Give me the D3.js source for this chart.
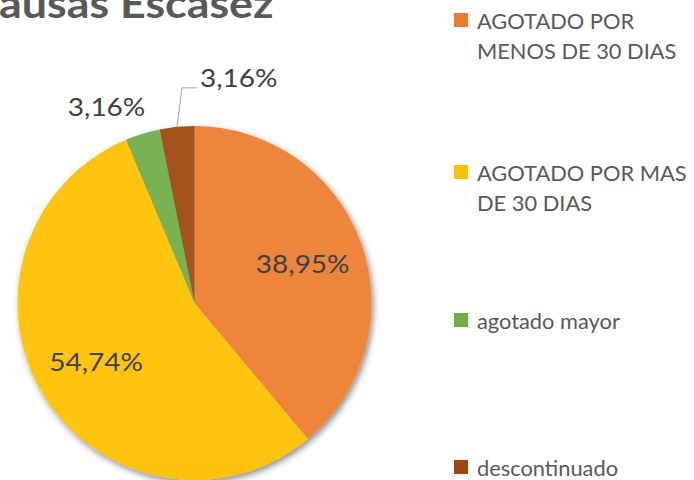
<!DOCTYPE html>
<html>
<head>
<meta charset="utf-8">
<script src="https://cdn.jsdelivr.net/npm/d3@7"></script>
<style>
  body { margin: 0; background: #fff; }
  svg { display: block; font-family: Lato, "Open Sans", sans-serif; }
</style>
</head>
<body>
<div id="chart"></div>
<script>
var width = 694
var height = 480

// data
var categories = ["AGOTADO POR MENOS DE 30 DIAS", "AGOTADO POR MAS DE 30 DIAS", "agotado mayor", "descontinuado"]
var legendLines = [["AGOTADO POR", "MENOS DE 30 DIAS"], ["AGOTADO POR MAS", "DE 30 DIAS"], ["agotado mayor"], ["descontinuado"]]
var values = [38.95, 54.74, 3.16, 3.16]
var labels = ["38,95%", "54,74%", "3,16%", "3,16%"]
var baseColors = ["#ED7D31", "#FFC000", "#70AD47", "#9E480E"]
var title = "Causas Escasez"

var cx = 194.5, cy = 303, radius = 177
var stretch = 1.12   // the original text is a bit wider than Lato

var svg = d3.select('#chart')
      .append('svg')
      .attr('width', width)
      .attr('height', height)

var defs = svg.append('defs')

// soft shadow like the office pie
var shadow = defs.append('filter').attr('id', 'shadow')
      .attr('x', '-20%').attr('y', '-20%').attr('width', '140%').attr('height', '140%')
shadow.append('feDropShadow')
      .attr('dx', 2).attr('dy', 3)
      .attr('stdDeviation', 3)
      .attr('flood-color', '#000')
      .attr('flood-opacity', 0.45)

// vertical gradient per slice, lighter on top
baseColors.forEach(function(c, i) {
  var g = defs.append('linearGradient')
        .attr('id', 'grad' + i)
        .attr('gradientUnits', 'userSpaceOnUse')
        .attr('x1', 0).attr('y1', cy - radius)
        .attr('x2', 0).attr('y2', cy + radius)
  g.append('stop').attr('offset', '0%').attr('stop-color', d3.interpolateRgb(c, '#fff')(0.06))
  g.append('stop').attr('offset', '100%').attr('stop-color', d3.color(c).darker(0.3))
})

// text helper: places a text at x,y with a small horizontal stretch
function addText(parent, x, y, size, sx) {
  return parent.append('text')
        .attr('transform', 'translate(' + x + ',' + y + ') scale(' + sx + ',1)')
        .style('font-size', size + 'px')
}

// title (first letter sits off the left edge)
var tmp = svg.append('text').style('font-size', '40px').style('font-weight', 'bold').text(title.charAt(0))
var firstW = tmp.node().getComputedTextLength() * stretch
tmp.remove()
addText(svg, -firstW - 1, 18, 40, stretch)
      .attr('fill', '#595959')
      .style('font-weight', 'bold')
      .text(title)

var pie = d3.pie().sort(null).value(function(d) { return d })
var arcs = pie(values)
var arc = d3.arc().innerRadius(0).outerRadius(radius)
var labelArc = d3.arc().innerRadius(radius * 0.65).outerRadius(radius * 0.65)
var edgeArc = d3.arc().innerRadius(radius).outerRadius(radius)

var pieG = svg.append('g')
      .attr('transform', 'translate(' + cx + ',' + cy + ')')

pieG.append('g')
      .attr('filter', 'url(#shadow)')
      .selectAll('path')
      .data(arcs)
      .enter()
      .append('path')
      .attr('d', arc)
      .attr('fill', function(d, i) { return 'url(#grad' + i + ')' })

// labels inside the two big slices
arcs.slice(0, 2).forEach(function(d, i) {
  var c = labelArc.centroid(d)
  addText(pieG, c[0], c[1], 25, stretch)
    .attr('dy', '0.35em')
    .attr('text-anchor', 'middle')
    .attr('fill', '#404040')
    .text(labels[i])
})

// green slice label, outside
var g2 = d3.arc().innerRadius(radius + 18).outerRadius(radius + 18).centroid(arcs[2])
addText(pieG, g2[0] + 8, g2[1] - 1, 25, stretch)
      .attr('text-anchor', 'end')
      .attr('fill', '#404040')
      .text(labels[2])

// brown slice label with leader line
var p0 = edgeArc.centroid(arcs[3])
var p1 = [p0[0] + 5, p0[1] - 39]
var p2 = [p1[0] + 15, p1[1]]
pieG.append('polyline')
      .attr('points', [p0, p1, p2].map(function(p) { return p.join(',') }).join(' '))
      .attr('fill', 'none')
      .attr('stroke', '#A6A6A6')
      .attr('stroke-width', 1)
addText(pieG, p2[0] + 3, p2[1] - 1, 25, stretch)
      .attr('fill', '#404040')
      .text(labels[3])

// legend
var legendY = [13, 165, 313, 460]
var legend = svg.selectAll('g.legend')
      .data(categories)
      .enter()
      .append('g')
      .attr('class', 'legend')
      .attr('transform', function(d, i) { return 'translate(454,' + legendY[i] + ')' })

legend.append('rect')
      .attr('width', 14).attr('height', 14)
      .attr('fill', function(d, i) { return baseColors[i] })

legend.each(function(d, i) {
  var g = d3.select(this)
  legendLines[i].forEach(function(line, j) {
    addText(g, 23, 16 + j * 30, 21, 1.04)
      .attr('fill', '#595959')
      .text(line)
  })
})
</script>
</body>
</html>
